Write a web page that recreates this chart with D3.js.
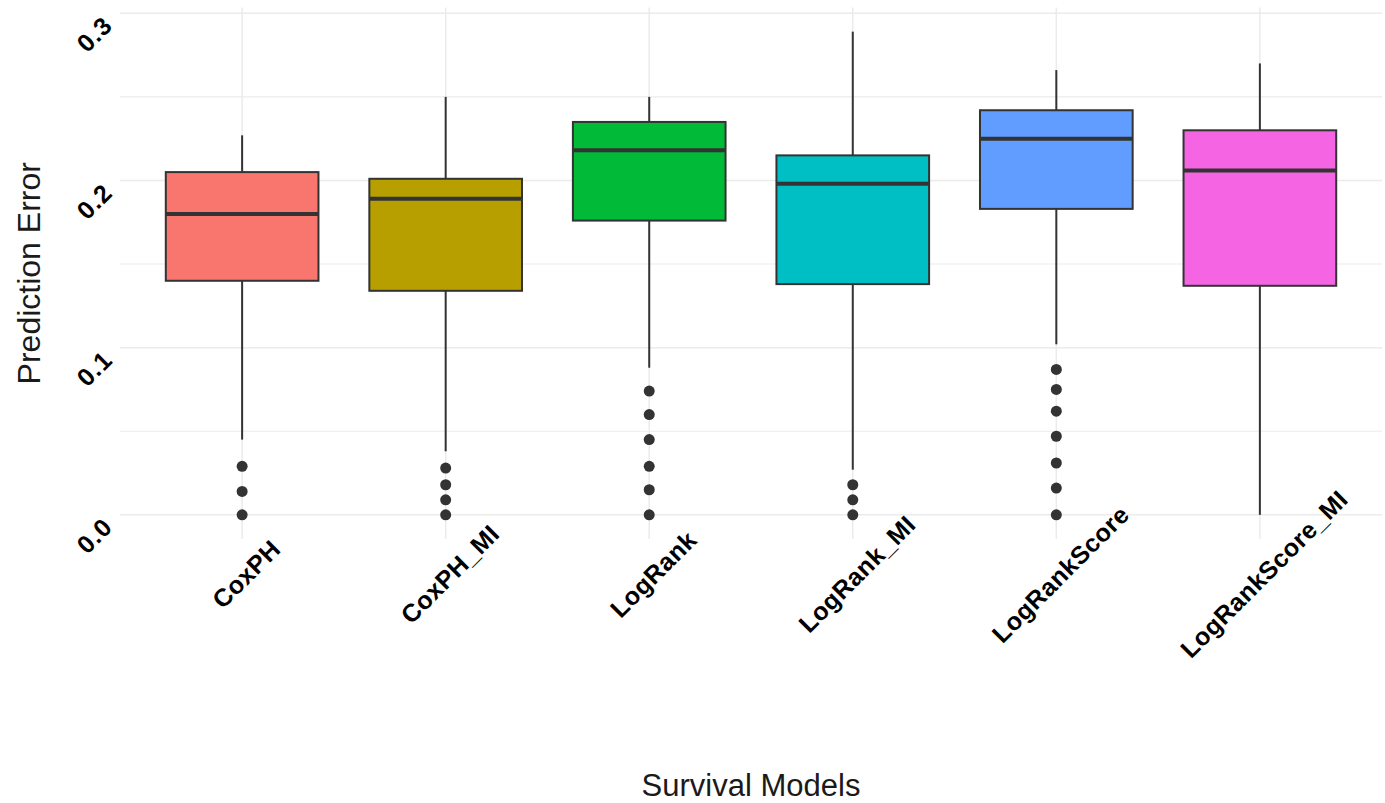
<!DOCTYPE html>
<html>
<head>
<meta charset="utf-8">
<script src="https://cdn.jsdelivr.net/npm/d3@7"></script>
<style>
  body { margin: 0; background: #ffffff; }
  svg { display: block; font-family: "Liberation Sans", Arial, Helvetica, sans-serif; }
</style>
</head>
<body>
<svg id="chart" width="1385" height="803"></svg>
<script>
// Prediction error of six survival models (box-and-whisker summaries)
const models = ["CoxPH", "CoxPH_MI", "LogRank", "LogRank_MI", "LogRankScore", "LogRankScore_MI"];
const whiskerLow  = [0.045, 0.038, 0.088, 0.027, 0.102, 0.000];
const q1          = [0.140, 0.134, 0.176, 0.138, 0.183, 0.137];
const median      = [0.180, 0.189, 0.218, 0.198, 0.225, 0.206];
const q3          = [0.205, 0.201, 0.235, 0.215, 0.242, 0.230];
const whiskerHigh = [0.227, 0.250, 0.250, 0.289, 0.266, 0.270];
const outliers = [
  [0.029, 0.014, 0.000],
  [0.028, 0.018, 0.009, 0.000],
  [0.074, 0.060, 0.045, 0.029, 0.015, 0.000],
  [0.018, 0.009, 0.000],
  [0.087, 0.075, 0.062, 0.047, 0.031, 0.016, 0.000],
  []
];
const fillColors = ["#F8766D", "#B79F00", "#00BA38", "#00BFC4", "#619CFF", "#F564E3"];
const yTicks = [0, 0.1, 0.2, 0.3];
const yTickLabels = ["0.0", "0.1", "0.2", "0.3"];
const yMinorTicks = [0.05, 0.15, 0.25];
const xTitle = "Survival Models";
const yTitle = "Prediction Error";

const svg = d3.select("#chart");
const panel = { left: 120, right: 1382, top: 7.5, bottom: 539 };

const x = d3.scalePoint()
  .domain(models)
  .range([panel.left, panel.right])
  .padding(0.6);

// continuous axis with 5% expansion around the data range
const allValues = whiskerLow.concat(whiskerHigh, outliers.flat());
const [lo, hi] = d3.extent(allValues);
const pad = (hi - lo) * 0.05;
const y = d3.scaleLinear()
  .domain([lo - pad, hi + pad])
  .range([panel.bottom, panel.top]);

const gridColor = "#ebebeb";
const grid = svg.append("g");

grid.selectAll("line.minor").data(yMinorTicks).join("line")
  .attr("x1", panel.left).attr("x2", panel.right)
  .attr("y1", d => y(d)).attr("y2", d => y(d))
  .attr("stroke", gridColor).attr("stroke-width", 1.1);

grid.selectAll("line.major").data(yTicks).join("line")
  .attr("x1", panel.left).attr("x2", panel.right)
  .attr("y1", d => y(d)).attr("y2", d => y(d))
  .attr("stroke", gridColor).attr("stroke-width", 1.5);

grid.selectAll("line.vert").data(models).join("line")
  .attr("x1", d => x(d)).attr("x2", d => x(d))
  .attr("y1", panel.top).attr("y2", panel.bottom)
  .attr("stroke", gridColor).attr("stroke-width", 1.5);

// boxes
const boxWidth = x.step() * 0.75;
const ink = "#333333";
const boxes = svg.append("g").selectAll("g").data(models).join("g");

boxes.append("line")
  .attr("x1", d => x(d)).attr("x2", d => x(d))
  .attr("y1", (d, i) => y(q3[i])).attr("y2", (d, i) => y(whiskerHigh[i]))
  .attr("stroke", ink).attr("stroke-width", 2);

boxes.append("line")
  .attr("x1", d => x(d)).attr("x2", d => x(d))
  .attr("y1", (d, i) => y(q1[i])).attr("y2", (d, i) => y(whiskerLow[i]))
  .attr("stroke", ink).attr("stroke-width", 2);

boxes.append("rect")
  .attr("x", d => x(d) - boxWidth / 2)
  .attr("width", boxWidth)
  .attr("y", (d, i) => y(q3[i]))
  .attr("height", (d, i) => y(q1[i]) - y(q3[i]))
  .attr("fill", (d, i) => fillColors[i])
  .attr("stroke", ink).attr("stroke-width", 2);

boxes.append("line")
  .attr("x1", d => x(d) - boxWidth / 2).attr("x2", d => x(d) + boxWidth / 2)
  .attr("y1", (d, i) => y(median[i])).attr("y2", (d, i) => y(median[i]))
  .attr("stroke", ink).attr("stroke-width", 4);

boxes.each(function (d, i) {
  d3.select(this).selectAll("circle").data(outliers[i]).join("circle")
    .attr("cx", x(d)).attr("cy", v => y(v)).attr("r", 5.5)
    .attr("fill", ink);
});

// rotated tick labels
const tickFont = 25;
const yLabels = svg.append("g").selectAll("text").data(yTicks).join("text")
  .text((d, i) => yTickLabels[i])
  .attr("font-size", tickFont).attr("font-weight", "bold")
  .attr("letter-spacing", 1)
  .attr("fill", "#000").attr("text-anchor", "middle")
  .attr("dominant-baseline", "central");
yLabels.each(function (d) {
  const w = this.getComputedTextLength();
  const ext = (w + 0.72 * tickFont) * Math.SQRT1_2;
  const cx = 114 - ext / 2, cy = y(d) + 1 + ext / 2;
  d3.select(this).attr("transform", `translate(${cx},${cy}) rotate(-45)`);
});

// category labels share a common centre line below the panel
const xLabelCenterY = 574;
svg.append("g").selectAll("text").data(models).join("text")
  .text(d => d)
  .attr("font-size", tickFont).attr("font-weight", "bold")
  .attr("letter-spacing", 0.4)
  .attr("fill", "#000").attr("text-anchor", "middle")
  .attr("dominant-baseline", "central")
  .attr("transform", d => `translate(${x(d) + 4},${xLabelCenterY}) rotate(-45)`);

// axis titles
svg.append("text")
  .text(xTitle)
  .attr("x", (panel.left + panel.right) / 2).attr("y", 796)
  .attr("text-anchor", "middle").attr("font-size", 31).attr("fill", "#1a1a1a");

svg.append("text")
  .text(yTitle)
  .attr("transform", `translate(40,${(panel.top + panel.bottom) / 2}) rotate(-90)`)
  .attr("text-anchor", "middle").attr("font-size", 32).attr("fill", "#1a1a1a");
</script>
</body>
</html>
